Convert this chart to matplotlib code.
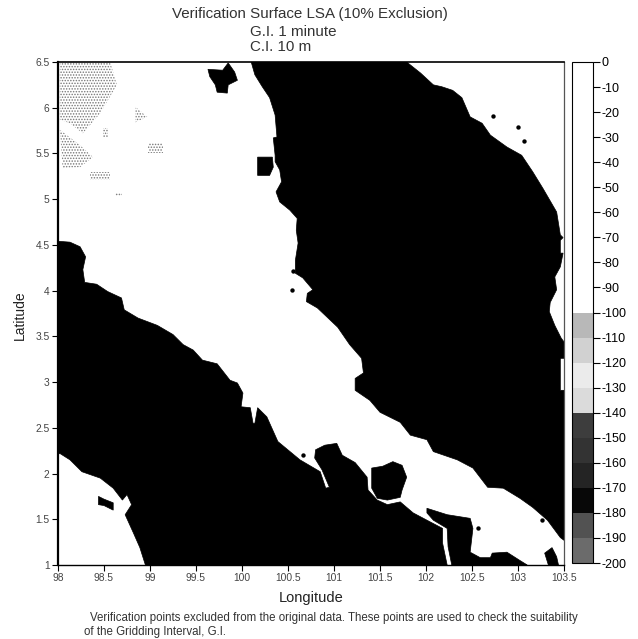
import matplotlib
matplotlib.use("Agg")
import matplotlib.pyplot as plt
from matplotlib.colors import ListedColormap, BoundaryNorm
from matplotlib.cm import ScalarMappable
import numpy as np

plt.rcParams['font.family'] = ['Liberation Sans', 'DejaVu Sans']
plt.rcParams['hatch.linewidth'] = 0.7

title_lines = ["Verification Surface LSA (10% Exclusion)", "G.I. 1 minute", "C.I. 10 m"]
footer_1 = "Verification points excluded from the original data. These points are used to check the suitability"
footer_2 = "of the Gridding Interval, G.I."
x_ticks = [98, 98.5, 99, 99.5, 100, 100.5, 101, 101.5, 102, 102.5, 103, 103.5]
y_ticks = [1, 1.5, 2, 2.5, 3, 3.5, 4, 4.5, 5, 5.5, 6, 6.5]
depth_levels = list(range(-200, 1, 10))
# grey level of each 10 m depth band, from -200 up to 0
depth_greys = [0.42, 0.32, 0.03, 0.14, 0.2, 0.24, 0.86, 0.92, 0.82, 0.72,
               1, 1, 1, 1, 1, 1, 1, 1, 1, 1]

# land at or above the datum, traced as (lon, lat)
peninsula_lon = [100.10,100.14,100.22,100.30,100.36,100.38,100.34,100.36,100.36,100.41,100.43,100.37,100.41,100.52,100.60,100.59,100.61,100.58,100.58,100.66,100.77,100.71,100.70,100.82,101.04,101.17,101.30,101.32,101.23,101.23,101.39,101.50,101.72,101.83,102.01,102.08,102.34,102.51,102.67,102.84,103.02,103.16,103.32,103.46,103.50,103.50,103.46,103.46,103.50,103.50,103.47,103.40,103.34,103.35,103.42,103.40,103.46,103.49,103.46,103.46,103.49,103.46,103.42,103.27,103.16,103.04,102.88,102.70,102.61,102.48,102.39,102.29,102.17,102.08,101.94,101.79]
peninsula_lat = [6.50,6.36,6.23,6.11,5.92,5.68,5.67,5.48,5.41,5.32,5.19,5.08,4.97,4.88,4.79,4.66,4.52,4.33,4.19,4.14,4.01,3.97,3.88,3.81,3.60,3.41,3.26,3.10,3.04,2.91,2.80,2.67,2.56,2.42,2.37,2.24,2.15,2.06,1.85,1.84,1.73,1.63,1.49,1.30,1.27,2.91,2.91,3.26,3.26,3.44,3.48,3.62,3.77,3.87,4.01,4.15,4.26,4.41,4.41,4.55,4.58,4.61,4.86,5.12,5.30,5.48,5.57,5.70,5.83,5.90,6.11,6.19,6.23,6.25,6.38,6.50]

sumatra_lon = [98.00,98.13,98.24,98.30,98.27,98.29,98.42,98.54,98.69,98.72,98.87,99.08,99.25,99.36,99.47,99.57,99.73,99.87,99.95,100.01,99.99,100.09,100.12,100.14,100.17,100.27,100.39,100.63,100.85,100.91,100.95,100.87,100.79,100.80,100.90,101.03,101.09,101.23,101.36,101.37,101.47,101.58,101.72,101.86,102.01,102.18,102.18,102.23,98.95,98.89,98.82,98.73,98.80,98.75,98.70,98.60,98.46,98.26,98.13,98.02,98.00]
sumatra_lat = [4.54,4.53,4.48,4.37,4.23,4.09,4.07,3.99,3.92,3.79,3.70,3.62,3.52,3.41,3.35,3.24,3.20,3.02,2.99,2.88,2.73,2.72,2.55,2.55,2.72,2.62,2.35,2.15,2.02,1.84,1.85,2.04,2.17,2.26,2.31,2.33,2.20,2.12,1.96,1.82,1.71,1.66,1.69,1.57,1.49,1.40,1.24,1.00,1.00,1.19,1.35,1.55,1.66,1.77,1.71,1.84,1.95,2.02,2.15,2.22,2.21]

south_lon = [102.01,102.23,102.48,102.51,102.48,102.59,102.70,102.72,102.88,103.02,103.10,102.28,102.24,102.23,102.08,102.01]
south_lat = [1.62,1.55,1.51,1.40,1.14,1.08,1.08,1.13,1.14,1.05,1.00,1.00,1.20,1.40,1.49,1.57]

corner_lon = [103.29,103.37,103.42,103.44,103.33]
corner_lat = [1.13,1.19,1.09,1.00,1.00]

basin_lon = [101.41,101.53,101.64,101.74,101.79,101.74,101.72,101.58,101.47,101.41]
basin_lat = [2.06,2.08,2.13,2.09,1.96,1.82,1.74,1.71,1.73,1.84]

north_islet_lon = [99.63,99.79,99.85,99.92,99.95,99.85,99.84,99.73,99.71,99.65]
north_islet_lat = [6.42,6.41,6.49,6.39,6.30,6.25,6.16,6.17,6.25,6.34]

mid_islet_lon = [100.17,100.33,100.34,100.30,100.17]
mid_islet_lat = [5.46,5.46,5.35,5.26,5.26]

sw_islet_lon = [98.44,98.50,98.60,98.60,98.50,98.44]
sw_islet_lat = [1.75,1.72,1.68,1.60,1.65,1.66]

speck_lon = [102.73,103.00,103.06,100.55,100.54,100.66,103.26,102.57]
speck_lat = [5.91,5.79,5.64,4.21,4.01,2.20,1.49,1.40]

# stippled shallow patches in the north-west
stipple_patches = [
    ([98.02,98.57,98.64,98.46,98.27,98.13,98.02], [6.49,6.49,6.25,5.94,5.72,5.83,5.87]),
    ([98.02,98.24,98.38,98.24,98.05], [5.76,5.59,5.46,5.35,5.34]),
    ([98.84,98.97,98.84], [6.01,5.90,5.84]),
    ([98.98,99.14,99.14,98.98], [5.61,5.61,5.50,5.50]),
    ([98.35,98.57,98.57,98.35], [5.30,5.30,5.21,5.21]),
    ([98.49,98.54,98.54,98.49], [5.78,5.78,5.67,5.67]),
    ([98.62,98.70,98.70,98.62], [5.07,5.07,5.03,5.03]),
]

W, H = 638, 639
fig = plt.figure(figsize=(W / 100, H / 100), dpi=100, facecolor='white')

def box(l, t, r, b):
    return [l / W, 1 - b / H, (r - l) / W, (b - t) / H]

ax = fig.add_axes(box(58, 62, 564, 565))
ax.set_xlim(98, 103.5)
ax.set_ylim(1, 6.5)
ax.set_facecolor('white')

for lons, lats in [(peninsula_lon, peninsula_lat), (sumatra_lon, sumatra_lat),
                   (south_lon, south_lat), (corner_lon, corner_lat),
                   (basin_lon, basin_lat), (north_islet_lon, north_islet_lat),
                   (mid_islet_lon, mid_islet_lat), (sw_islet_lon, sw_islet_lat)]:
    ax.fill(lons, lats, color='black', lw=0.5, zorder=2)
ax.scatter(speck_lon, speck_lat, s=10, color='black', lw=0, zorder=3)
for lons, lats in stipple_patches:
    ax.fill(lons, lats, facecolor='none', edgecolor='#777777', hatch='......', lw=0, zorder=1)

ax.set_xticks(x_ticks)
ax.set_xticklabels([f"{v:g}" for v in x_ticks], fontsize=7.4, color='#444444')
ax.set_yticks(y_ticks)
ax.set_yticklabels([f"{v:g}" for v in y_ticks], fontsize=7.4, color='#444444')
ax.tick_params(axis='both', length=4, width=0.8, pad=2)
for side, lw, col in [('left', 1.6, 'black'), ('top', 1.2, 'black'),
                      ('bottom', 1.0, 'black'), ('right', 0.9, '#555555')]:
    ax.spines[side].set_linewidth(lw)
    ax.spines[side].set_color(col)

cax = fig.add_axes(box(572, 62, 593, 563))
cmap = ListedColormap([(g, g, g) for g in depth_greys])
norm = BoundaryNorm(depth_levels, cmap.N)
cb = fig.colorbar(ScalarMappable(norm=norm, cmap=cmap), cax=cax, spacing='proportional')
cb.set_ticks(depth_levels)
cb.set_ticklabels([str(v) for v in depth_levels])
cb.ax.tick_params(labelsize=9, length=5, width=0.8, pad=1)
cb.outline.set_linewidth(0.8)

fig.text(310 / W, 1 - 14 / H, title_lines[0], ha='center', va='center', fontsize=10.9, color='#333333')
fig.text(250 / W, 1 - 32 / H, title_lines[1], ha='left', va='center', fontsize=10.9, color='#333333')
fig.text(250 / W, 1 - 47 / H, title_lines[2], ha='left', va='center', fontsize=10.9, color='#333333')
fig.text(311 / W, 1 - 598 / H, "Longitude", ha='center', va='center', fontsize=10.5, color='#222222')
fig.text(20 / W, 1 - 315 / H, "Latitude", ha='center', va='center', rotation=90, fontsize=10, color='#222222')
fig.text(90 / W, 1 - 618 / H, footer_1, ha='left', va='center', fontsize=8.3, color='#333333')
fig.text(84 / W, 1 - 632 / H, footer_2, ha='left', va='center', fontsize=8.3, color='#333333')

fig.savefig("out.png", dpi=100, facecolor='white')
